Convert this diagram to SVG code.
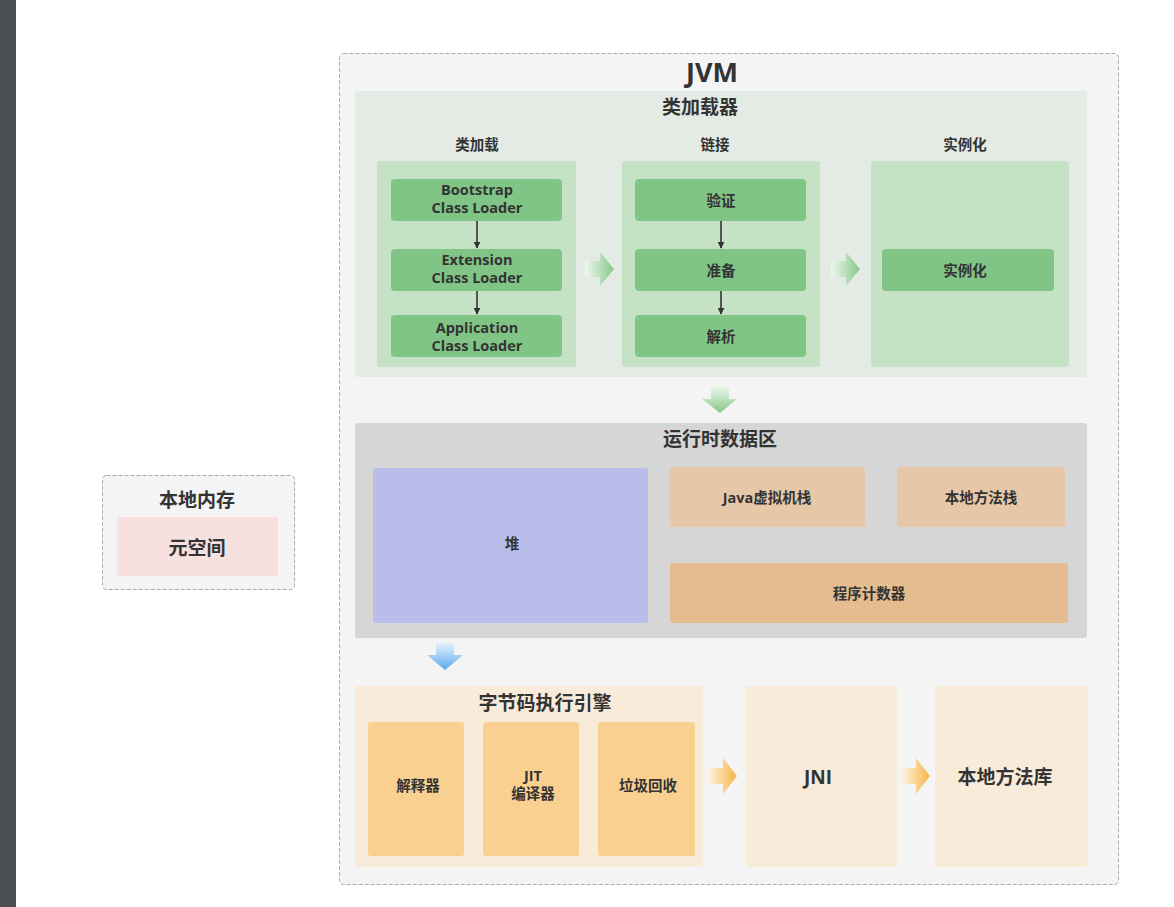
<svg xmlns="http://www.w3.org/2000/svg" width="1174" height="907" viewBox="0 0 1174 907">
<defs>
<style>
text{font-family:"Open Sans","Noto Sans CJK SC","Liberation Sans",sans-serif;font-weight:bold;fill:#333;text-anchor:middle;dominant-baseline:central}
.t{font-size:19px}
.s{font-size:14.5px}
.dash{fill:#f4f4f4;stroke:#aaa;stroke-width:1;stroke-dasharray:4 2}
.green{fill:#80c585}
.col{fill:#c6e2c5}
.tan{fill:#e6c8a8}
.eng{fill:#f8ebda}
.or{fill:#f9d08f}
.ln{stroke:#333;stroke-width:1.6;fill:none}
</style>
<marker id="ah" viewBox="0 0 10 10" refX="9" refY="5" markerWidth="7" markerHeight="7" markerUnits="userSpaceOnUse" orient="auto">
<path d="M0,0 L10,5 L0,10 z" fill="#333"/>
</marker>
<linearGradient id="gR" x1="0" y1="0" x2="1" y2="0">
<stop offset="0" stop-color="#eef7ee"/><stop offset="1" stop-color="#84c888"/>
</linearGradient>
<linearGradient id="gD" x1="0" y1="0" x2="0" y2="1">
<stop offset="0" stop-color="#eef7ee"/><stop offset="1" stop-color="#84c888"/>
</linearGradient>
<linearGradient id="bD" x1="0" y1="0" x2="0" y2="1">
<stop offset="0" stop-color="#eaf4fd"/><stop offset="1" stop-color="#5aaaf0"/>
</linearGradient>
<linearGradient id="oR" x1="0" y1="0" x2="1" y2="0">
<stop offset="0" stop-color="#fdf3e4"/><stop offset="1" stop-color="#f6b547"/>
</linearGradient>
</defs>
<rect x="0" y="0" width="1174" height="907" fill="#fff"/>
<rect x="0" y="0" width="16" height="907" fill="#4b4e52"/>

<g id="jvm">
<rect class="dash" x="339.5" y="53.5" width="779" height="831" rx="4"/>
<text x="712" y="71" style="font-size:27px">JVM</text>
</g>

<g id="class-loader">
<rect x="355" y="91" width="732" height="286" rx="3" fill="#e3ebe4"/>
<text class="t" x="700" y="107">类加载器</text>
</g>
<g id="col-load">
<text class="s" x="477" y="144">类加载</text>
<rect class="col" x="377" y="161" width="199" height="206" rx="3"/>
</g>
<g id="col-link">
<text class="s" x="715" y="144">链接</text>
<rect class="col" x="622" y="161" width="198" height="206" rx="3"/>
</g>
<g id="col-inst">
<text class="s" x="965" y="144">实例化</text>
<rect class="col" x="871" y="161" width="198" height="206" rx="3"/>
</g>
<g id="bootstrap">
<rect class="green" x="391" y="179" width="171" height="42" rx="4"/>
<text class="s" x="477" y="189">Bootstrap</text>
<text class="s" x="477" y="207">Class Loader</text>
</g>
<g id="extension">
<rect class="green" x="391" y="249" width="171" height="42" rx="4"/>
<text class="s" x="477" y="259">Extension</text>
<text class="s" x="477" y="277">Class Loader</text>
</g>
<g id="application">
<rect class="green" x="391" y="315" width="171" height="42" rx="4"/>
<text class="s" x="477" y="327">Application</text>
<text class="s" x="477" y="345">Class Loader</text>
</g>
<g id="verify">
<rect class="green" x="635" y="179" width="171" height="42" rx="4"/>
<text class="s" x="721" y="200">验证</text>
</g>
<g id="prepare">
<rect class="green" x="635" y="249" width="171" height="42" rx="4"/>
<text class="s" x="721" y="270">准备</text>
</g>
<g id="resolve">
<rect class="green" x="635" y="315" width="171" height="42" rx="4"/>
<text class="s" x="721" y="336">解析</text>
</g>
<g id="instantiate">
<rect class="green" x="882" y="249" width="172" height="42" rx="4"/>
<text class="s" x="965" y="270">实例化</text>
</g>

<g id="runtime">
<rect x="355" y="423" width="732" height="215" rx="3" fill="#d6d6d6"/>
<text class="t" x="720" y="439">运行时数据区</text>
</g>
<g id="heap">
<rect x="373" y="468" width="275" height="155" rx="3" fill="#b8bee9"/>
<text class="s" x="512" y="543">堆</text>
</g>
<g id="jvm-stack">
<rect class="tan" x="670" y="467" width="195" height="60" rx="3"/>
<text class="s" x="767" y="497">Java虚拟机栈</text>
</g>
<g id="native-stack">
<rect class="tan" x="897" y="467" width="168" height="60" rx="3"/>
<text class="s" x="981" y="497">本地方法栈</text>
</g>
<g id="pc">
<rect x="670" y="563" width="398" height="60" rx="3" fill="#e4bc8f"/>
<text class="s" x="869" y="593">程序计数器</text>
</g>

<g id="engine">
<rect class="eng" x="355" y="686" width="348" height="181" rx="3"/>
<text class="t" x="545" y="703">字节码执行引擎</text>
</g>
<g id="interpreter">
<rect class="or" x="368" y="722" width="96" height="134" rx="3"/>
<text class="s" x="418" y="785">解释器</text>
</g>
<g id="jit">
<rect class="or" x="483" y="722" width="96" height="134" rx="3"/>
<text class="s" x="533" y="775">JIT</text>
<text class="s" x="533" y="793">编译器</text>
</g>
<g id="gc">
<rect class="or" x="598" y="722" width="97" height="134" rx="3"/>
<text class="s" x="648" y="785">垃圾回收</text>
</g>
<g id="jni">
<rect class="eng" x="746" y="686" width="151" height="181" rx="3"/>
<text class="t" x="818" y="777">JNI</text>
</g>
<g id="native-lib">
<rect class="eng" x="935" y="686" width="153" height="181" rx="3"/>
<text class="t" x="1005" y="777">本地方法库</text>
</g>

<g id="native-memory">
<rect class="dash" x="102.5" y="475.5" width="192" height="114" rx="4"/>
<text class="t" x="197" y="500">本地内存</text>
</g>
<g id="metaspace">
<rect x="117" y="517" width="161" height="59" fill="#f7e0e0"/>
<text class="t" x="197" y="548">元空间</text>
</g>

<g id="connectors">
<line class="ln" x1="477" y1="221" x2="477" y2="248" marker-end="url(#ah)"/>
<line class="ln" x1="477" y1="291" x2="477" y2="314" marker-end="url(#ah)"/>
<line class="ln" x1="721" y1="221" x2="721" y2="248" marker-end="url(#ah)"/>
<line class="ln" x1="721" y1="291" x2="721" y2="314" marker-end="url(#ah)"/>
<polygon fill="url(#gR)" points="585,261 600,261 600,252 614,269 600,286 600,277 585,277"/>
<polygon fill="url(#gR)" points="831,261 846,261 846,252 860,269 846,286 846,277 831,277"/>
<polygon fill="url(#gD)" points="711,386 729,386 729,399 737,399 720,413 702,399 711,399"/>
<polygon fill="url(#bD)" points="436,642 454,642 454,655 463,655 445,670 427,655 436,655"/>
<polygon fill="url(#oR)" points="708,768 723,768 723,758 737,776 723,794 723,784 708,784"/>
<polygon fill="url(#oR)" points="902,768 916,768 916,758 930,776 916,794 916,784 902,784"/>
</g>
</svg>
